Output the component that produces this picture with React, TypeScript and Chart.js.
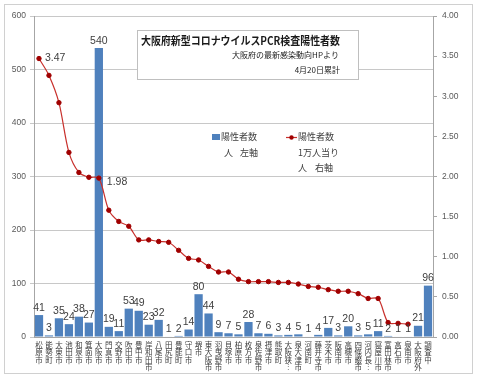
import React, { useEffect, useRef } from 'react';
import { Chart, registerables } from 'chart.js';

Chart.register(...registerables);

const municipalities = ['松原市','能勢町','大東市','池田市','和泉市','箕面市','大阪市','門真市','交野市','吹田市','豊中市','岸和田市','八尾市','田尻町','豊能町','守口市','堺市','東大阪市','羽曳野市','貝塚市','柏原市','枚方市','泉佐野市','摂津市','熊取町','大阪狭︙','泉大津市','河南町','藤井寺市','茨木市','阪南市','高槻市','四條畷市','河内長︙','寝屋川市','富田林市','高石市','泉南市','大阪府外','調査中'];
const positives = [41,3,35,24,38,27,540,19,11,53,49,23,32,1,2,14,80,44,9,7,5,28,7,6,3,4,5,1,4,17,3,20,3,5,11,2,1,1,21,96];
const per10k: (number | null)[] = [3.47,3.26,2.92,2.30,2.05,1.99,1.98,1.58,1.44,1.38,1.21,1.21,1.19,1.18,1.08,0.98,0.96,0.88,0.81,0.81,0.72,0.69,0.69,0.69,0.68,0.68,0.66,0.63,0.62,0.59,0.57,0.57,0.54,0.48,0.48,0.18,0.17,0.16,null,null];
const labeledPoints = [0, 6];

const titleText = '大阪府新型コロナウイルスPCR検査陽性者数';
const sourceText = '大阪府の最新感染動向HPより';
const dateText = '4月20日累計';
const barLegend = ['陽性者数', '人', '左軸'];
const lineLegend = ['陽性者数', '1万人当り', '人', '右軸'];

const JP = '"Noto Sans CJK JP", sans-serif';
const NUM = '"Liberation Sans", sans-serif';
const BAR_COLOR = '#4F81BD';
const LINE_COLOR = '#C8302C';
const POINT_COLOR = '#A00000';
const TEXT = '#404040';

export default function App() {
  const ref = useRef<HTMLCanvasElement>(null);

  useEffect(() => {
    const canvas = ref.current!;
    const decor = {
      id: 'decor',
      beforeDraw(chart: any) {
        const { ctx, width, height } = chart;
        ctx.save();
        ctx.fillStyle = '#fff';
        ctx.fillRect(0, 0, width, height);
        ctx.strokeStyle = '#D0D0D0';
        ctx.lineWidth = 1;
        ctx.strokeRect(4.5, 4.5, 468, 369);
        ctx.restore();
      },
      afterDatasetsDraw(chart: any) {
        const ctx = chart.ctx;
        ctx.save();
        const barMeta = chart.getDatasetMeta(0);
        ctx.font = `10.5px ${NUM}`;
        ctx.fillStyle = TEXT;
        ctx.textAlign = 'center';
        ctx.textBaseline = 'bottom';
        barMeta.data.forEach((el: any, i: number) => {
          ctx.fillText(String(positives[i]), el.x, el.y - 2);
        });
        const lineMeta = chart.getDatasetMeta(1);
        ctx.textAlign = 'left';
        ctx.textBaseline = 'middle';
        labeledPoints.forEach((i, k) => {
          const el = lineMeta.data[i];
          const v = per10k[i] as number;
          if (k === 0) ctx.fillText(v.toFixed(2), el.x + 6, el.y);
          else ctx.fillText(v.toFixed(2), el.x + 8, el.y + 4);
        });
        ctx.restore();
      },
      afterDraw(chart: any) {
        const ctx = chart.ctx;
        ctx.save();
        // title box
        ctx.fillStyle = '#fff';
        ctx.fillRect(137, 30, 222, 50);
        ctx.strokeStyle = '#BFBFBF';
        ctx.lineWidth = 1;
        ctx.strokeRect(137.5, 30.5, 221, 49);
        ctx.fillStyle = '#1a1a1a';
        ctx.textBaseline = 'middle';
        ctx.textAlign = 'left';
        ctx.font = `bold 11px ${JP}`;
        ctx.fillText(titleText, 141, 41, 199);
        ctx.font = `8px ${JP}`;
        ctx.textAlign = 'right';
        ctx.fillText(sourceText, 339, 55);
        ctx.fillText(dateText, 340, 70);
        // legend
        ctx.textAlign = 'left';
        ctx.font = `9px ${JP}`;
        ctx.fillStyle = BAR_COLOR;
        ctx.fillRect(212, 134, 8, 6);
        ctx.fillStyle = TEXT;
        ctx.fillText(barLegend[0], 221, 137);
        ctx.fillText(barLegend[1], 224, 153);
        ctx.fillText(barLegend[2], 240, 153);
        ctx.strokeStyle = LINE_COLOR;
        ctx.lineWidth = 1.2;
        ctx.beginPath();
        ctx.moveTo(286, 137.5);
        ctx.lineTo(297, 137.5);
        ctx.stroke();
        ctx.fillStyle = POINT_COLOR;
        ctx.beginPath();
        ctx.arc(291.5, 137.5, 2.2, 0, Math.PI * 2);
        ctx.fill();
        ctx.fillStyle = TEXT;
        ctx.fillText(lineLegend[0], 298, 137);
        ctx.fillText(lineLegend[1], 298, 153);
        ctx.fillText(lineLegend[2], 298, 168);
        ctx.fillText(lineLegend[3], 315, 168);
        ctx.restore();
      },
    };

    const chart = new Chart(canvas, {
      type: 'bar',
      data: {
        labels: municipalities.map((n) => Array.from(n)),
        datasets: [
          {
            type: 'bar',
            label: '陽性者数 人 左軸',
            data: positives,
            backgroundColor: BAR_COLOR,
            barPercentage: 0.83,
            categoryPercentage: 1,
            yAxisID: 'y',
            order: 2,
          },
          {
            type: 'line',
            label: '陽性者数 1万人当り 人 右軸',
            data: per10k,
            borderColor: LINE_COLOR,
            borderWidth: 1.2,
            tension: 0.3,
            pointRadius: 2.2,
            pointBackgroundColor: POINT_COLOR,
            pointBorderColor: POINT_COLOR,
            pointBorderWidth: 1,
            yAxisID: 'y1',
            order: 1,
          } as any,
        ],
      },
      options: {
        responsive: false,
        animation: false,
        layout: { padding: { top: 16, left: 0, right: 0, bottom: 0 } },
        plugins: { legend: { display: false }, tooltip: { enabled: false }, title: { display: false } },
        scales: {
          x: {
            grid: { display: false, drawTicks: false },
            border: { color: '#A6A6A6' },
            ticks: {
              autoSkip: false,
              maxRotation: 0,
              minRotation: 0,
              padding: 4,
              color: TEXT,
              font: { family: JP, size: 7.5, lineHeight: 1.0 },
            },
            afterFit: (s: any) => { s.height = 43; },
          },
          y: {
            position: 'left',
            min: 0,
            max: 600,
            ticks: { stepSize: 100, padding: 4, color: '#595959', font: { family: NUM, size: 8.5 } },
            grid: { color: '#C8C8C8', tickLength: 4 },
            border: { color: '#A6A6A6' },
            afterFit: (s: any) => { s.width = 34; },
          },
          y1: {
            position: 'right',
            min: 0,
            max: 4,
            ticks: {
              stepSize: 0.5,
              padding: 5,
              color: '#595959',
              font: { family: NUM, size: 8.5 },
              callback: (v: any) => Number(v).toFixed(2),
            },
            grid: { drawOnChartArea: false, tickLength: 4, color: '#A6A6A6' },
            border: { color: '#A6A6A6' },
            afterFit: (s: any) => { s.width = 47; },
          },
        },
      } as any,
      plugins: [decor],
    });
    return () => chart.destroy();
  }, []);

  return (
    <div style={{ position: 'fixed', left: 0, top: 0, width: 480, height: 380, background: '#fff' }}>
      <canvas ref={ref} width={480} height={380} style={{ display: 'block' }} />
    </div>
  );
}
